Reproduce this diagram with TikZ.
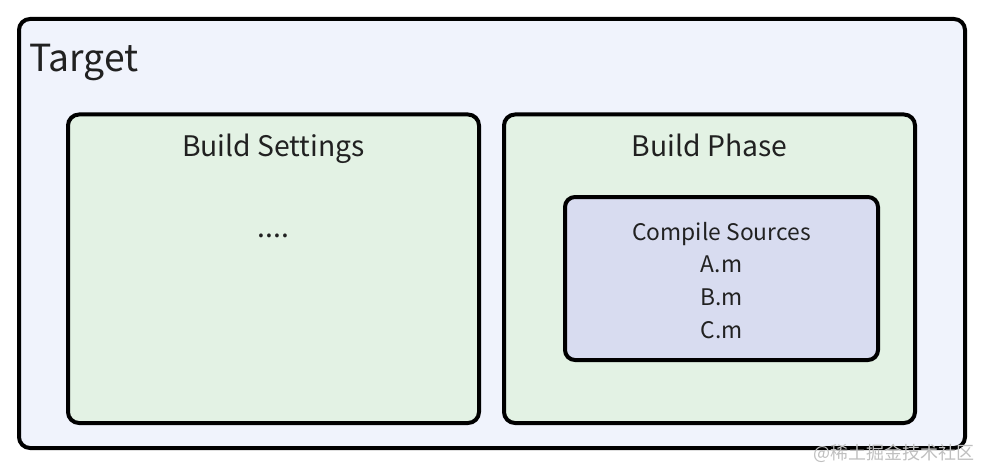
\documentclass[tikz,border=0pt]{standalone}
\usepackage{fontspec}
\setmainfont{Noto Sans CJK SC}
\begin{document}
\begin{tikzpicture}[x=1pt,y=-1pt,
  box/.style={draw=black,line width=4pt,rounded corners=11pt},
  lbl/.style={text=black!87,inner sep=0pt,anchor=base},
]
\definecolor{outerfill}{HTML}{F0F3FC}
\definecolor{greenfill}{HTML}{E3F2E4}
\definecolor{purplefill}{HTML}{D8DCF0}
\useasboundingbox (0,0) rectangle (982,468);
\draw[box,fill=outerfill] (19,19) rectangle (965,448);
\draw[box,fill=greenfill] (68,114.5) rectangle (479,423);
\draw[box,fill=greenfill] (504,114.5) rectangle (915,423);
\draw[box,fill=purplefill,line width=4pt,rounded corners=10pt] (565,197) rectangle (878,360);
\node[lbl,anchor=base west,font=\fontsize{37.3}{40}\selectfont] (target) at (29,72) {Target};
\node[lbl,font=\fontsize{28.3}{32}\selectfont] (bs) at (273.5,157) {Build Settings};
\node[lbl,font=\fontsize{28.3}{32}\selectfont] (dots) at (273.5,237) {....};
\node[lbl,font=\fontsize{28.3}{32}\selectfont] (bp) at (709.5,157) {Build Phase};
\node[lbl,font=\fontsize{22.8}{26}\selectfont] (cs) at (721.5,240) {Compile Sources};
\node[lbl,font=\fontsize{22.8}{26}\selectfont] (am) at (721.5,272) {A.m};
\node[lbl,font=\fontsize{22.8}{26}\selectfont] (bm) at (721.5,305) {B.m};
\node[lbl,font=\fontsize{22.8}{26}\selectfont] (cm) at (721.5,338) {C.m};
\node[inner sep=0pt,anchor=base east,text=black!25,font=\fontsize{18}{20}\selectfont] (wm) at (975,459) {@稀土掘金技术社区};
\end{tikzpicture}
\end{document}
